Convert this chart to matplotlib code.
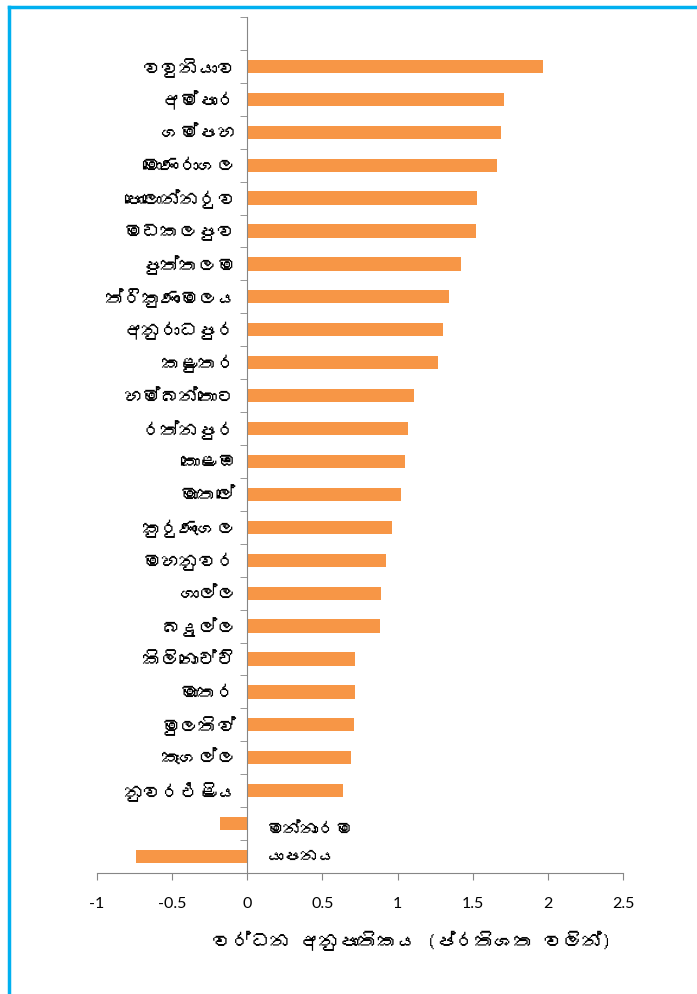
import matplotlib
matplotlib.use("Agg")
import numpy as np
import matplotlib.pyplot as plt
from matplotlib import font_manager
from matplotlib.ft2font import FT2Font
from matplotlib.lines import Line2D

# districts (top to bottom) and growth rate (%)
districts = ["වවුනියාව", "අම්පාර", "ගම්පහ", "මොණරාගල", "පොලොන්නරුව",
             "මඩකලපුව", "පුත්තලම", "ත්රිකුණාමලය", "අනුරාධපුර", "කළුතර",
             "හම්බන්තොට", "රත්නපුර", "කොළඹ", "මාතලේ", "කුරුණෑගල",
             "මහනුවර", "ගාල්ල", "බදුල්ල", "කිලිනොච්චි", "මාතර",
             "මුලතිව්", "කෑගල්ල", "නුවරඑළිය", "මන්නාරම", "යාපනය"]
growth = [1.97, 1.71, 1.69, 1.66, 1.53,
          1.52, 1.42, 1.34, 1.30, 1.27,
          1.11, 1.07, 1.05, 1.02, 0.96,
          0.92, 0.89, 0.88, 0.72, 0.72,
          0.71, 0.69, 0.64, -0.18, -0.74]
xticks = [-1, -0.5, 0, 0.5, 1, 1.5, 2, 2.5]
xlabel = "වර්ධන අනුපාතිකය (ප්රතිශත වලින්)"


def sinhala_font():
    '''look for any installed font that has Sinhala glyphs'''
    for f in font_manager.fontManager.ttflist:
        try:
            ft = FT2Font(f.fname)
            if 0x0D9A in ft.get_charmap():
                return f.name
        except Exception:
            pass
    return None


sfont = sinhala_font()
fams = [sfont, "DejaVu Sans"] if sfont else ["DejaVu Sans"]

fig = plt.figure(figsize=(6.97, 9.94), dpi=100)
ax = fig.add_axes([97 / 697, 1 - 873 / 994, (623 - 97) / 697, (873 - 17) / 994])

pos = np.arange(len(districts))
ax.barh(pos, growth, height=0.4, color="#F79646", zorder=2)

ax.set_xlim(-1, 2.5)
ax.set_ylim(len(districts) - 0.5, -1.5)

grey = "#868686"
for s in ["top", "right"]:
    ax.spines[s].set_visible(False)
ax.spines["left"].set_position(("data", 0))
ax.spines["left"].set_color(grey)
ax.spines["bottom"].set_color(grey)
ax.spines["left"].set_zorder(3)

ax.set_xticks(xticks)
ax.set_xticklabels([f"{v:g}" for v in xticks], family=["Lato", "DejaVu Sans"], fontsize=11.5)
ax.tick_params(axis="x", direction="out", length=5, color=grey, pad=12)

# category labels, the last two sit right of the axis
ax.set_yticks(pos)
ax.set_yticklabels(districts[:-2] + ["", ""], family=fams, fontsize=13.5)
ax.tick_params(axis="y", which="major", length=0, pad=8)
ax.set_yticks(np.arange(-1.5, len(districts), 1), minor=True)
ax.tick_params(axis="y", which="minor", direction="out", length=5, color=grey)
ax.text(0.13, pos[-2] + 0.18, districts[-2], family=fams, fontsize=12.5,
        ha="left", va="center")
ax.text(0.13, pos[-1], districts[-1], family=fams, fontsize=12.5,
        ha="left", va="center")

fig.text(412 / 697, 1 - 941 / 994, xlabel, family=fams, fontsize=14,
         ha="center", va="center")

# blue frame
blue = "#00B0F0"
fig.add_artist(Line2D([9 / 697, 9 / 697], [0, 1 - 7 / 994], color=blue, lw=2.5))
fig.add_artist(Line2D([9 / 697, 1], [1 - 7 / 994, 1 - 7 / 994], color=blue, lw=2.5))

plt.savefig("out.png", dpi=100)
